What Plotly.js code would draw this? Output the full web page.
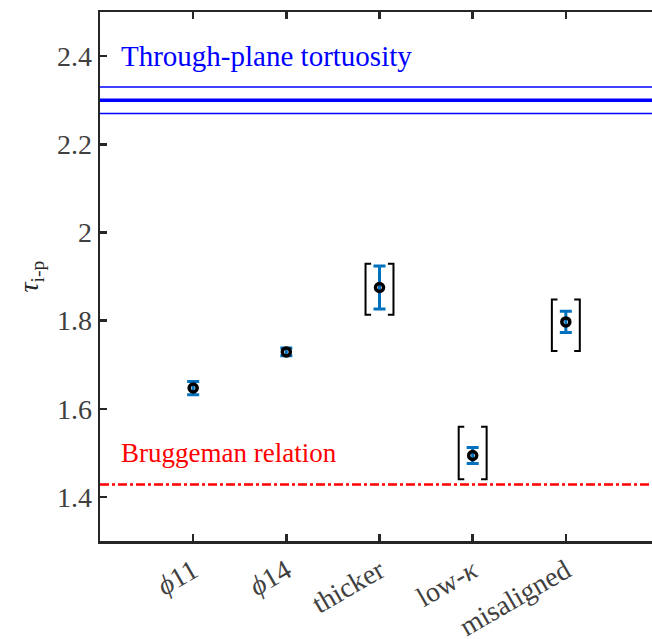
<!DOCTYPE html>
<html>
<head>
<meta charset="utf-8">
<script src="https://cdn.plot.ly/plotly-3.0.1.min.js"></script>
<style>
html,body{margin:0;padding:0;overflow:hidden;background:#fff;}
#chart{position:absolute;left:0;top:0;width:665px;height:639px;}
#warm{position:absolute;left:0;top:0;font-family:'Liberation Serif';font-size:28px;color:#000;}
#warm i{font-style:italic;}
</style>
</head>
<body>
<div id="warm">Through <i>ϕ κ τ</i> 1.4</div>
<div id="chart"></div>
<script>
// ---- data ----
const categories = ["<i>ϕ</i>11", "<i>ϕ</i>14", "thicker", "low-<i>κ</i>", "misaligned"];
const xPositions = [1, 2, 3, 4, 5];
const tauMean = [1.647, 1.729, 1.875, 1.494, 1.797];
const tauErr = [0.015, 0.009, 0.049, 0.018, 0.024];
const bracketIdx = [2, 3, 4];
const bracketLow = [1.813, 1.440, 1.731];
const bracketHigh = [1.929, 1.559, 1.848];
const throughPlane = 2.30;
const throughPlaneBand = [2.27, 2.33];
const bruggeman = 1.428;
const yTicks = [1.4, 1.6, 1.8, 2.0, 2.2, 2.4];
const yTickLabels = ["1.4", "1.6", "1.8", "2", "2.2", "2.4"];

// ---- bracket path built from data ----
const bHalf = 0.15, bArm = 0.06;
const bx = [], by = [];
bracketIdx.forEach((i, k) => {
  const xc = xPositions[i];
  bx.push(xc - bHalf + bArm, xc - bHalf, xc - bHalf, xc - bHalf + bArm, null);
  by.push(bracketHigh[k], bracketHigh[k], bracketLow[k], bracketLow[k], null);
  bx.push(xc + bHalf - bArm, xc + bHalf, xc + bHalf, xc + bHalf - bArm, null);
  by.push(bracketHigh[k], bracketHigh[k], bracketLow[k], bracketLow[k], null);
});

const SERIF = "Liberation Serif";

function draw() {
  const traces = [
    {
      x: bx, y: by, mode: "lines", type: "scatter",
      line: {color: "#000000", width: 2}, hoverinfo: "skip", showlegend: false
    },
    {
      x: xPositions, y: tauMean, mode: "markers", type: "scatter",
      error_y: {type: "data", array: tauErr, visible: true, color: "#0072BD", thickness: 3, width: 6},
      marker: {symbol: "circle-open", size: 8, color: "#000000", line: {width: 3.5, color: "#000000"}},
      showlegend: false
    }
  ];

  const shapes = [
    {type: "line", xref: "paper", x0: 0, x1: 1, yref: "y", y0: throughPlane, y1: throughPlane,
     line: {color: "#0000FF", width: 3.5}},
    {type: "line", xref: "paper", x0: 0, x1: 1, yref: "y", y0: throughPlaneBand[0], y1: throughPlaneBand[0],
     line: {color: "#0000FF", width: 1.5}},
    {type: "line", xref: "paper", x0: 0, x1: 1, yref: "y", y0: throughPlaneBand[1], y1: throughPlaneBand[1],
     line: {color: "#0000FF", width: 1.5}},
    {type: "line", xref: "paper", x0: 0, x1: 1, yref: "y", y0: bruggeman, y1: bruggeman,
     line: {color: "#FF0000", width: 2.5, dash: "9px,3px,3px,3px"}}
  ];

  const annotations = [
    {text: "Through-plane tortuosity", x: 0.2, y: 2.4, xanchor: "left",
     showarrow: false, font: {family: SERIF, size: 29, color: "#0000FF"}},
    {text: "Bruggeman relation", x: 0.2, y: 1.5, xanchor: "left",
     showarrow: false, font: {family: SERIF, size: 27, color: "#FF0000"}}
  ];

  const layout = {
    width: 665, height: 639,
    margin: {l: 100, r: 6, t: 12, b: 98},
    xaxis: {
      range: [0, 6], tickvals: xPositions, ticktext: categories, tickangle: -30,
      showgrid: false, zeroline: false, showline: true, linecolor: "#262626", linewidth: 2.5,
      ticks: "inside", ticklen: 7, tickwidth: 2.5, tickcolor: "#262626", mirror: "ticks",
      tickfont: {family: SERIF, size: 28, color: "#404040"}
    },
    yaxis: {
      range: [1.3, 2.5], tickvals: yTicks, ticktext: yTickLabels,
      showgrid: false, zeroline: false, showline: true, linecolor: "#262626", linewidth: 2.5,
      ticks: "inside", ticklen: 7, tickwidth: 2.5, tickcolor: "#262626", mirror: "ticks",
      tickfont: {family: SERIF, size: 28, color: "#404040"},
      title: {text: "<i>τ</i><sub>i-p</sub>", font: {family: SERIF, size: 28, color: "#262626"}, standoff: 10}
    },
    shapes: shapes,
    annotations: annotations,
    showlegend: false
  };

  Plotly.newPlot("chart", traces, layout, {staticPlot: true});
}

draw();
if (document.fonts && document.fonts.load) {
  Promise.all([
    document.fonts.load('28px "Liberation Serif"'),
    document.fonts.load('italic 28px "Liberation Serif"')
  ]).then(draw).catch(function(){});
}
setTimeout(draw, 200);
</script>
</body>
</html>
